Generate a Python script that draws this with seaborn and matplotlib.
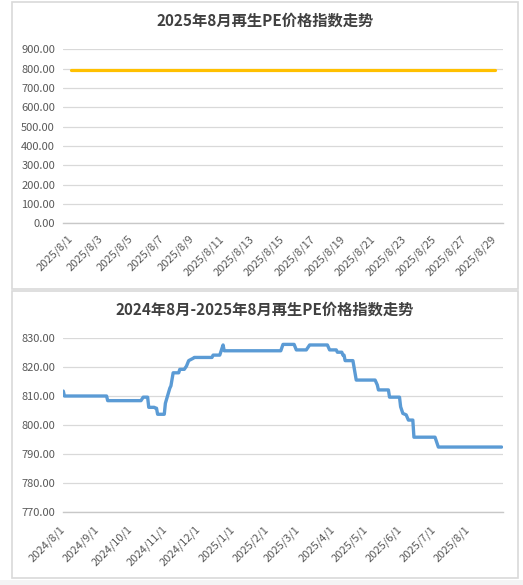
import matplotlib
matplotlib.use("Agg")
import matplotlib.pyplot as plt
import matplotlib.dates as mdates
from matplotlib.ticker import FixedLocator, FuncFormatter
from matplotlib.patches import Rectangle
import pandas as pd
import seaborn as sns

# ---------------- data ----------------
# Top chart: August 2025 daily index (category axis)
aug_labels = ["2025/8/1", "2025/8/2", "2025/8/3", "2025/8/4", "2025/8/5", "2025/8/6",
              "2025/8/7", "2025/8/8", "2025/8/9", "2025/8/10", "2025/8/11", "2025/8/12",
              "2025/8/13", "2025/8/14", "2025/8/15", "2025/8/16", "2025/8/17", "2025/8/18",
              "2025/8/19", "2025/8/20", "2025/8/21", "2025/8/22", "2025/8/23", "2025/8/24",
              "2025/8/25", "2025/8/26", "2025/8/27", "2025/8/28", "2025/8/29"]
aug_values = [792.5, 792.5, 792.5, 792.5, 792.5, 792.5, 792.5, 792.5, 792.5, 792.5,
              792.5, 792.5, 792.5, 792.5, 792.5, 792.5, 792.5, 792.5, 792.5, 792.5,
              792.5, 792.5, 792.5, 792.5, 792.5, 792.5, 792.5, 792.5, 792.5]
top_yticks = [0, 100, 200, 300, 400, 500, 600, 700, 800, 900]

# Bottom chart: 2024/8 - 2025/8 index (date axis), change points
year_dates = ["2024-08-01", "2024-08-02", "2024-09-09", "2024-09-10", "2024-10-10",
              "2024-10-12", "2024-10-16", "2024-10-17", "2024-10-22", "2024-10-23",
              "2024-10-24", "2024-10-25", "2024-10-31", "2024-11-01", "2024-11-05",
              "2024-11-06", "2024-11-08", "2024-11-13", "2024-11-14", "2024-11-18",
              "2024-11-20", "2024-11-22", "2024-11-26", "2024-11-27", "2024-12-13",
              "2024-12-14", "2024-12-20", "2024-12-23", "2024-12-24", "2025-02-13",
              "2025-02-15", "2025-02-25", "2025-02-27", "2025-03-08", "2025-03-11",
              "2025-03-27", "2025-03-29", "2025-04-04", "2025-04-05", "2025-04-09",
              "2025-04-10", "2025-04-11", "2025-04-12", "2025-04-19", "2025-04-22",
              "2025-05-09", "2025-05-11", "2025-05-12", "2025-05-21", "2025-05-22",
              "2025-05-31", "2025-06-01", "2025-06-03", "2025-06-06", "2025-06-08",
              "2025-06-12", "2025-06-13", "2025-07-02", "2025-07-05", "2025-08-31"]
year_values = [811.8, 810.1, 810.1, 808.5, 808.5,
               809.7, 809.7, 806.2, 806.2, 805.9,
               805.9, 803.8, 803.8, 807.6, 812.8,
               813.6, 818.1, 818.1, 819.3, 819.3,
               820.4, 822.3, 823.1, 823.4, 823.4,
               824.2, 824.2, 827.7, 825.7, 825.7,
               827.9, 827.9, 826.0, 826.0, 827.7,
               827.7, 826.0, 826.0, 825.2, 825.2,
               824.2, 824.2, 822.3, 822.3, 815.6,
               815.6, 813.9, 812.2, 812.2, 809.7,
               809.7, 806.4, 804.1, 803.6, 801.8,
               801.8, 795.9, 795.9, 792.5, 792.5]
bottom_yticks = [770, 780, 790, 800, 810, 820, 830]
month_ticks = ["2024-08-01", "2024-09-01", "2024-10-01", "2024-11-01", "2024-12-01",
               "2025-01-01", "2025-02-01", "2025-03-01", "2025-04-01", "2025-05-01",
               "2025-06-01", "2025-07-01", "2025-08-01", "2025-09-01"]

title_top = "2025年8月再生PE价格指数走势"
title_bottom = "2024年8月-2025年8月再生PE价格指数走势"

# ---------------- style ----------------
sns.set_theme(style="white")
plt.rcParams["font.family"] = ["Noto Sans CJK SC", "DejaVu Sans"]

W, H = 523, 585
fig = plt.figure(figsize=(W / 100, H / 100), dpi=100)
fig.patch.set_facecolor("white")

TXT = "#595959"
GRID = "#d9d9d9"
BORDER = "#d9d9d9"


def fx(px):
    return px / W


def fy(py):
    return 1 - py / H


# panel borders
fig.patches.append(Rectangle((fx(11.5), fy(289)), fx(518) - fx(11.5), fy(2) - fy(289),
                             transform=fig.transFigure, fill=False, ec=BORDER, lw=1.2))
fig.patches.append(Rectangle((fx(11.5), fy(578)), fx(518) - fx(11.5), fy(290.5) - fy(578),
                             transform=fig.transFigure, fill=False, ec=BORDER, lw=1.2))
fig.patches.append(Rectangle((0, 0), 1, fy(580), transform=fig.transFigure,
                             fill=True, fc="#f4f4f4", ec="none", zorder=-5))


def style_axes(ax):
    for s in ["left", "right", "top"]:
        ax.spines[s].set_visible(False)
    ax.spines["bottom"].set_color("#c8c8c8")
    ax.spines["bottom"].set_linewidth(1.0)
    ax.yaxis.grid(True, color=GRID, linewidth=0.9)
    ax.xaxis.grid(False)
    ax.set_axisbelow(True)
    ax.tick_params(axis="y", length=0, pad=6, labelsize=8, labelcolor=TXT)
    ax.set_xlabel("")
    ax.set_ylabel("")
    ax.set_facecolor("none")


# ---------------- top chart ----------------
ax1 = fig.add_axes([fx(63.3), fy(223.3), fx(502.7) - fx(63.3), fy(49.3) - fy(223.3)])
top_df = pd.DataFrame({"idx": list(range(len(aug_labels))), "val": aug_values})
sns.lineplot(data=top_df, x="idx", y="val", ax=ax1, color="#FFC000", linewidth=2.3)
style_axes(ax1)
ax1.set_ylim(top_yticks[0], top_yticks[-1])
ax1.set_yticks(top_yticks)
ax1.yaxis.set_major_formatter(FuncFormatter(lambda v, p: f"{v:.2f}"))
n = len(aug_labels)
ax1.set_xlim(-0.5, n - 0.5)
label_pos = list(range(0, n, 2))
ax1.set_xticks(label_pos)
ax1.set_xticklabels([aug_labels[i] for i in label_pos], rotation=45, ha="right",
                    va="center", rotation_mode="anchor", fontsize=8, color=TXT)
ax1.tick_params(axis="x", which="major", length=0, pad=10)
ax1.xaxis.set_minor_locator(FixedLocator([i - 0.5 for i in label_pos]))
ax1.tick_params(axis="x", which="minor", length=4, width=0.9, color="#c8c8c8", direction="out")
fig.text(fx(265), fy(21), title_top, ha="center", va="center", fontsize=11,
         fontweight="bold", color="#404040")

# ---------------- bottom chart ----------------
ax2 = fig.add_axes([fx(63.3), fy(512.3), fx(502.7) - fx(63.3), fy(338.3) - fy(512.3)])
bot_df = pd.DataFrame({"date": pd.to_datetime(year_dates), "val": year_values})
sns.lineplot(data=bot_df, x="date", y="val", ax=ax2, color="#5B9BD5", linewidth=2.4)
style_axes(ax2)
ax2.set_ylim(bottom_yticks[0], bottom_yticks[-1])
ax2.set_yticks(bottom_yticks)
ax2.yaxis.set_major_formatter(FuncFormatter(lambda v, p: f"{v:.2f}"))
mt = pd.to_datetime(month_ticks)
ax2.set_xlim(mt[0], mt[-1])
ax2.set_xticks(mt)
ax2.set_xticklabels([f"{d.year}/{d.month}/{d.day}" for d in mt[:-1]] + [""],
                    rotation=45, ha="right", va="center", rotation_mode="anchor",
                    fontsize=8, color=TXT)
ax2.tick_params(axis="x", which="major", length=4, width=0.9, color="#c8c8c8",
                direction="out", pad=7)
fig.text(fx(264.5), fy(310), title_bottom, ha="center", va="center", fontsize=11,
         fontweight="bold", color="#404040")

fig.savefig("out.png", dpi=100)
